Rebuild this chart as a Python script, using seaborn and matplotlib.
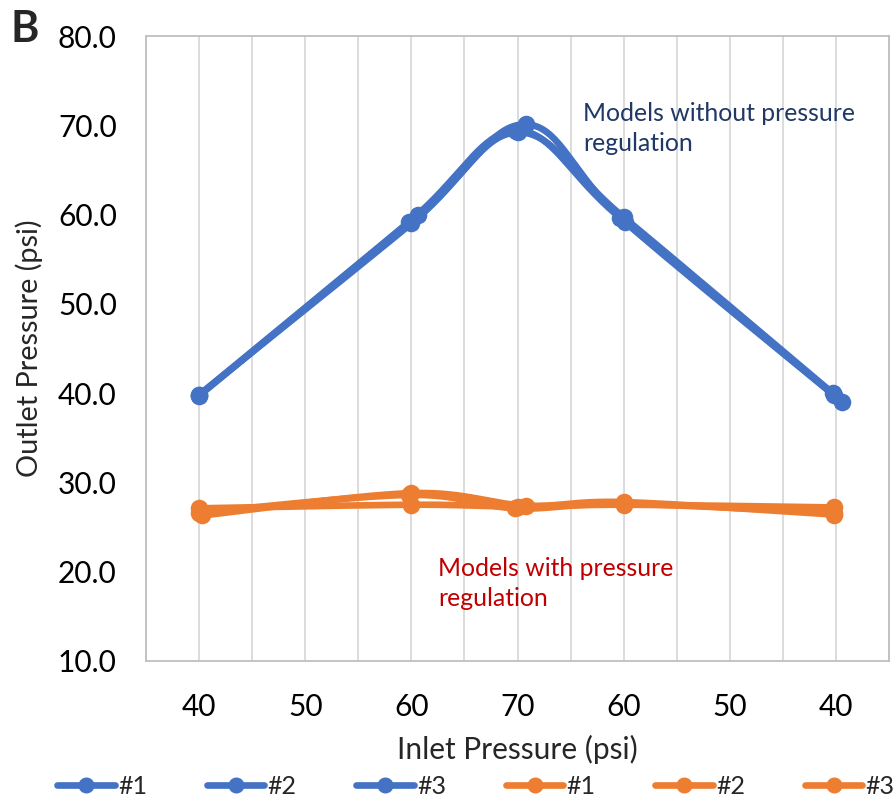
import numpy as np
import pandas as pd
import matplotlib
matplotlib.use("Agg")
import matplotlib.pyplot as plt
import seaborn as sns
from matplotlib.lines import Line2D

# ---------------- data ----------------
x_tick_labels = ["40", "50", "60", "70", "60", "50", "40"]
y_ticks = [10, 20, 30, 40, 50, 60, 70, 80]

# x positions are category positions (1 = first "40", 7 = last "40")
blue1_x = [1.00, 3.00, 4.00, 5.00, 6.97]
blue1_y = [39.8, 59.0, 69.2, 59.7, 40.0]
blue2_x = [1.00, 3.06, 4.08, 5.01, 7.06]
blue2_y = [39.7, 59.9, 70.1, 59.2, 39.0]
blue3_x = [1.00, 2.98, 3.99, 4.97, 6.98]
blue3_y = [39.8, 59.2, 69.4, 59.6, 39.8]

orange1_x = [1.00, 3.00, 4.00, 5.00, 6.98]
orange1_y = [27.1, 27.5, 27.3, 27.5, 27.2]
orange2_x = [1.03, 3.00, 4.08, 5.00, 6.98]
orange2_y = [26.3, 28.8, 27.4, 27.8, 26.4]
orange3_x = [1.00, 2.98, 3.98, 5.00, 6.98]
orange3_y = [26.6, 28.6, 27.1, 27.6, 26.6]

series_names = ["#1", "#2", "#3", "#1", "#2", "#3"]
series_x = [blue1_x, blue2_x, blue3_x, orange1_x, orange2_x, orange3_x]
series_y = [blue1_y, blue2_y, blue3_y, orange1_y, orange2_y, orange3_y]
BLUE = "#4472C4"
ORANGE = "#ED7D31"
series_colors = [BLUE, BLUE, BLUE, ORANGE, ORANGE, ORANGE]


def smooth(xs, ys, n=40):
    """Excel-like smoothed line (Catmull-Rom style Bezier)."""
    P = np.column_stack([xs, ys]).astype(float)
    m = len(P)
    out = []
    for i in range(m - 1):
        p0 = P[i - 1] if i > 0 else P[i]
        p1 = P[i]
        p2 = P[i + 1]
        p3 = P[i + 2] if i + 2 < m else P[i + 1]
        c1 = p1 + (p2 - p0) / 6.0
        c2 = p2 - (p3 - p1) / 6.0
        t = np.linspace(0, 1, n)[:, None]
        seg = ((1 - t) ** 3) * p1 + 3 * ((1 - t) ** 2) * t * c1 + 3 * (1 - t) * t ** 2 * c2 + t ** 3 * p2
        out.append(seg if i == 0 else seg[1:])
    pts = np.vstack(out)
    return pts[:, 0], pts[:, 1]


# ---------------- figure ----------------
sns.set_theme(style="white")
plt.rcParams["font.family"] = ["Lato", "DejaVu Sans"]

fig = plt.figure(figsize=(8.93, 8.02), dpi=100)
ax = fig.add_axes([146 / 893, 1 - 661 / 802, (889 - 146) / 893, (661 - 36) / 802])

for xs, ys, c, name in zip(series_x, series_y, series_colors, series_names):
    sx, sy = smooth(xs, ys)
    df_line = pd.DataFrame({"x": sx, "y": sy})
    sns.lineplot(data=df_line, x="x", y="y", sort=False, color=c, linewidth=4.8,
                 ax=ax, legend=False, zorder=3, estimator=None)
    df_pts = pd.DataFrame({"x": xs, "y": ys})
    sns.scatterplot(data=df_pts, x="x", y="y", color=c, s=160, edgecolor=c,
                    linewidth=0, ax=ax, legend=False, zorder=4)

ax.set_xlim(0.5, 7.5)
ax.set_ylim(10, 80)
ax.set_xticks(range(1, 8))
ax.set_xticklabels(x_tick_labels)
ax.set_xticks(np.arange(0.5, 7.51, 0.5), minor=True)
ax.set_yticks(y_ticks)
ax.set_yticklabels([f"{v:.1f}" for v in y_ticks])
ax.tick_params(axis="both", which="both", length=0, labelsize=21.5, colors="black")
ax.tick_params(axis="x", pad=23)
ax.tick_params(axis="y", pad=21)
ax.grid(False)
ax.xaxis.grid(True, which="both", color="#D9D9D9", linewidth=1.3)
ax.yaxis.grid(False)
for sp in ax.spines.values():
    sp.set_color("#BFBFBF")
    sp.set_linewidth(1.3)

ax.set_xlabel("Inlet Pressure (psi)", fontsize=21.5, labelpad=10)
ax.set_ylabel("Outlet Pressure (psi)", fontsize=20.8, labelpad=11)

ax.text(583 / 893, 1 - 128.5 / 802, "Models without pressure\nregulation",
        transform=fig.transFigure, fontsize=17.8, color="#1F3864",
        va="center", ha="left", linespacing=1.4)
ax.text(438 / 893, 1 - 583.5 / 802, "Models with pressure\nregulation",
        transform=fig.transFigure, fontsize=17.8, color="#C00000",
        va="center", ha="left", linespacing=1.4)
ax.text(10 / 893, 1 - 29 / 802, "B", transform=fig.transFigure, fontsize=31,
        fontweight="bold", va="center", ha="left")

handles = [Line2D([0], [0], color=c, linewidth=4.8, marker="o", markersize=10.5)
           for c in series_colors]
fig.legend(handles, series_names, loc="center", bbox_to_anchor=(0.533, 1 - 786 / 802),
           ncol=6, frameon=False, fontsize=18, handlelength=2.3, handletextpad=0.12,
           columnspacing=2.4, borderaxespad=0, borderpad=0)

fig.savefig("out.png", dpi=100)
